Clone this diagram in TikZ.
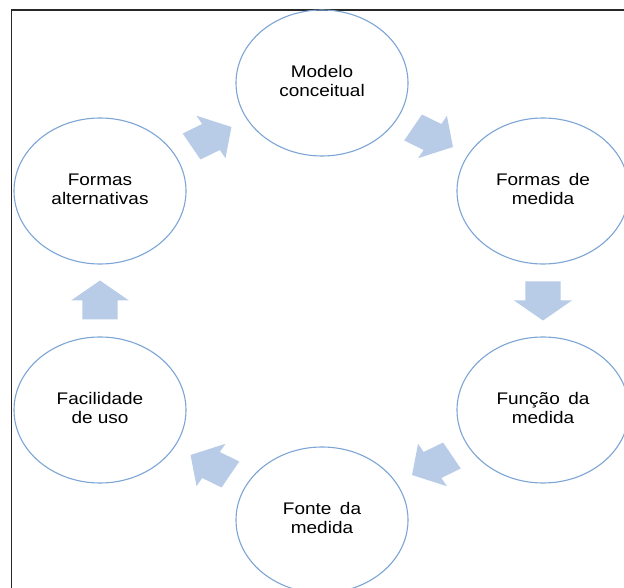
\documentclass[tikz,border=0pt]{standalone}
\usepackage{fontspec}
\setmainfont{Liberation Sans}
\usetikzlibrary{shapes.geometric,calc}
\definecolor{ringblue}{RGB}{125,165,214}
\definecolor{arrowblue}{RGB}{184,204,232}
\definecolor{framegray}{RGB}{40,40,40}
\tikzset{
  ring/.style={ellipse, draw=ringblue, line width=1.1pt, inner sep=0pt,
    minimum width=172pt, minimum height=146pt, font=\fontsize{16.8}{19}\selectfont},
  blockarrow/.style={fill=arrowblue, draw=none}
}
\newcommand{\lbl}[2]{\scalebox{1.13}[1]{\begin{tabular}{@{}c@{}}#1\\#2\end{tabular}}}
\newcommand{\cyclearrow}[3]{%
  \begin{scope}[shift={($(#1)!0.5!(#2)$)}, xscale=1.18, rotate=#3]
    \fill[blockarrow] (-19,-15) -- (0,-15) -- (0,-24.5) -- (20,0) -- (0,24.5) -- (0,15) -- (-19,15) -- cycle;
  \end{scope}}
\begin{document}
\begin{tikzpicture}[x=1pt,y=1pt]
\useasboundingbox (0,0) rectangle (624,587);
\clip (0,0) rectangle (624,587);
\fill[white] (0,0) rectangle (624,587);
\draw[framegray, line width=1.2pt] (11.5,-5) -- (11.5,577) -- (630,577);
\node[ring] (mod) at (322,504) {\lbl{Modelo}{conceitual}};
\node[ring] (med) at (543,396) {\lbl{Formas\hspace{0.45em}de}{medida}};
\node[ring] (fun) at (543,177) {\lbl{Função\hspace{0.45em}da}{medida}};
\node[ring] (fon) at (322,67) {\lbl{Fonte\hspace{0.45em}da}{medida}};
\node[ring] (fac) at (100,177) {\lbl{Facilidade}{de uso}};
\node[ring] (alt) at (100,396) {\lbl{Formas}{alternativas}};
\cyclearrow{alt}{mod}{30}
\cyclearrow{mod}{med}{-30}
\cyclearrow{med}{fun}{-90}
\cyclearrow{fun}{fon}{210}
\cyclearrow{fon}{fac}{150}
\cyclearrow{fac}{alt}{90}
\end{tikzpicture}
\end{document}
